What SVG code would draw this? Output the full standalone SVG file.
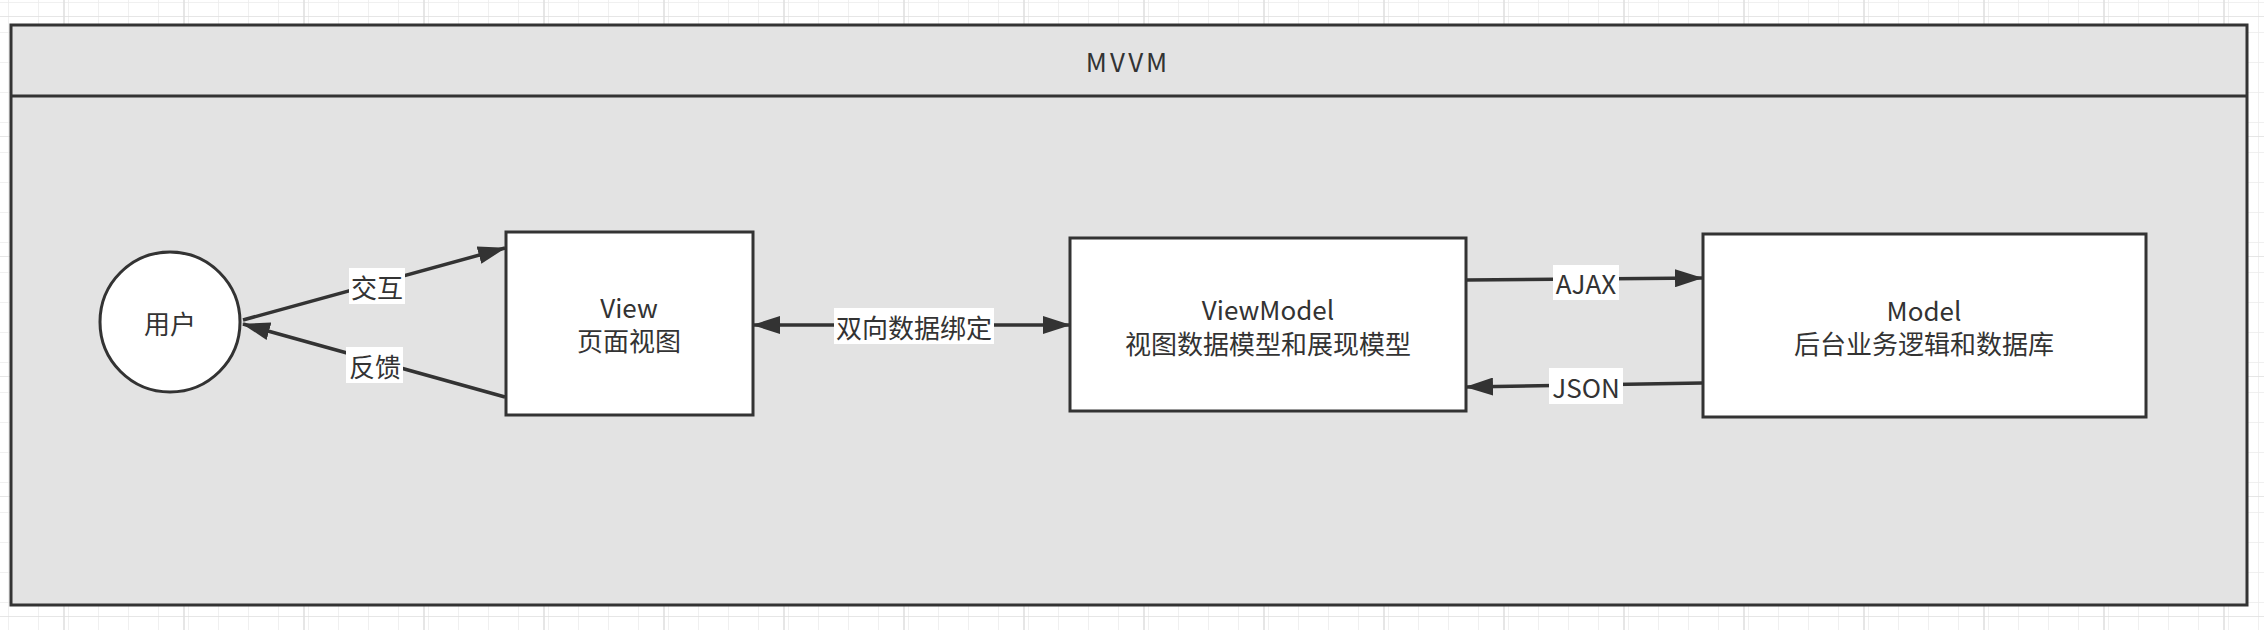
<svg xmlns="http://www.w3.org/2000/svg" width="2264" height="630" viewBox="0 0 2264 630">
  <defs>
    <pattern id="gridMinor" x="4" y="16" width="30" height="30" patternUnits="userSpaceOnUse">
      <path d="M0,0 L0,30 M0,0 L30,0" fill="none" stroke="#ececec" stroke-width="1.5"/>
    </pattern>
    <pattern id="gridMajor" x="4" y="16" width="120" height="120" patternUnits="userSpaceOnUse">
      <rect width="120" height="120" fill="url(#gridMinor)"/>
      <path d="M60,0 L60,120 M0,0 L120,0" fill="none" stroke="#dedede" stroke-width="1.5"/>
    </pattern>
    <marker id="arr" viewBox="0 0 28 18" refX="27" refY="9" markerWidth="28" markerHeight="18" markerUnits="userSpaceOnUse" orient="auto-start-reverse">
      <path d="M0,0 L28,9 L0,18 Z" fill="#333333"/>
    </marker>
  </defs>
  <style>
    .frame { fill: #e3e3e3; stroke: #333333; stroke-width: 3; }
    .node { fill: #ffffff; stroke: #333333; stroke-width: 3; }
    .edge { fill: none; stroke: #333333; stroke-width: 3.5; }
    .lblbg { fill: #ffffff; stroke: none; }
    text { font-family: "Noto Sans CJK SC", "Noto Sans", sans-serif; fill: #333333; font-size: 26px; text-anchor: middle; dominant-baseline: central; }
    .title { letter-spacing: 3px; }
  </style>
  <rect width="2264" height="630" fill="#ffffff"/>
  <rect width="2264" height="630" fill="url(#gridMajor)"/>

  <g id="container">
    <rect class="frame" x="11" y="25" width="2236" height="580"/>
    <line x1="11" y1="96" x2="2247" y2="96" stroke="#333333" stroke-width="3"/>
    <text class="title" x="1128" y="60">MVVM</text>
  </g>

  <g id="connectors">
    <path class="edge" d="M243,320 L505,248" marker-end="url(#arr)"/>
    <path class="edge" d="M505,397 L243,324" marker-end="url(#arr)"/>
    <path class="edge" d="M753,325 L1070,325" marker-start="url(#arr)" marker-end="url(#arr)"/>
    <path class="edge" d="M1466,280 L1702,278" marker-end="url(#arr)"/>
    <path class="edge" d="M1702,383 L1466,387" marker-end="url(#arr)"/>
    <g id="label-jiaohu">
      <rect class="lblbg" x="349" y="268" width="56" height="36"/>
      <text x="377" y="286">交互</text>
    </g>
    <g id="label-fankui">
      <rect class="lblbg" x="346" y="347" width="57" height="36"/>
      <text x="375" y="365">反馈</text>
    </g>
    <g id="label-binding">
      <rect class="lblbg" x="834" y="308" width="160" height="36"/>
      <text x="914" y="326">双向数据绑定</text>
    </g>
    <g id="label-ajax">
      <rect class="lblbg" x="1553" y="265" width="66" height="35"/>
      <text x="1586" y="282">AJAX</text>
    </g>
    <g id="label-json">
      <rect class="lblbg" x="1549" y="368" width="74" height="36"/>
      <text x="1586" y="386">JSON</text>
    </g>
  </g>

  <g id="user">
    <ellipse class="node" cx="170" cy="322" rx="70" ry="70"/>
    <text x="170" y="322">用户</text>
  </g>

  <g id="view">
    <rect class="node" x="506" y="232" width="247" height="183"/>
    <text x="629" y="306">View</text>
    <text x="629" y="339">页面视图</text>
  </g>

  <g id="viewmodel">
    <rect class="node" x="1070" y="238" width="396" height="173"/>
    <text x="1268" y="308">ViewModel</text>
    <text x="1268" y="342">视图数据模型和展现模型</text>
  </g>

  <g id="model">
    <rect class="node" x="1703" y="234" width="443" height="183"/>
    <text x="1924" y="309">Model</text>
    <text x="1924" y="342">后台业务逻辑和数据库</text>
  </g>
</svg>
